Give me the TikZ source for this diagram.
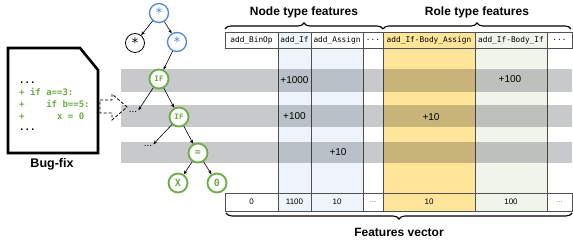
\documentclass[tikz,border=0pt]{standalone}
\usepackage{fontspec}
\setmainfont{Liberation Sans}
\newfontfamily\codefont{DejaVu Sans Mono}
\usetikzlibrary{arrows.meta,decorations.pathreplacing}
\definecolor{treeblue}{HTML}{4A86E8}
\definecolor{treegreen}{HTML}{6AAD45}
\definecolor{colblue}{HTML}{EEF4FA}
\definecolor{colyellow}{HTML}{FFE599}
\definecolor{colgreen}{HTML}{F0F5EC}
\definecolor{bandgray}{HTML}{C8C9CB}
\definecolor{linegray}{HTML}{505050}
\begin{document}
\begin{tikzpicture}[x=1pt,y=-1pt,
  hcell/.style={draw=linegray,line width=0.7pt,minimum height=16pt,inner sep=0pt,
    font=\codefont\fontsize{7.8}{9}\selectfont},
  vcell/.style={draw=linegray,line width=0.7pt,minimum height=18pt,inner sep=0pt,
    font=\fontsize{8}{9}\selectfont},
  colbox/.style={draw=linegray,line width=0.7pt,minimum height=145pt,inner sep=0pt},
  band/.style={fill=bandgray,minimum width=451pt,inner sep=0pt},
  val/.style={font=\fontsize{10}{12}\selectfont,inner sep=0pt},
  title/.style={font=\bfseries\fontsize{12}{14}\selectfont,inner sep=0pt},
  tnode/.style={circle,minimum size=19pt,inner sep=0pt,fill=white},
  bnode/.style={tnode,line width=1.3pt,draw=treeblue,text=treeblue,font=\codefont\fontsize{13}{13}\selectfont},
  knode/.style={tnode,line width=0.8pt,draw=black,text=black,font=\codefont\fontsize{13}{13}\selectfont},
  gnode/.style={tnode,line width=1.8pt,draw=treegreen,text=treegreen,font=\codefont\bfseries\fontsize{10}{10}\selectfont},
  gsmall/.style={gnode,font=\codefont\bfseries\fontsize{7.5}{8}\selectfont},
  edge/.style={line width=0.6pt,-{Stealth[length=4pt,width=3.2pt]}},
  code/.style={anchor=base west,inner sep=0pt,font=\codefont\bfseries\fontsize{9}{11}\selectfont},
  brc/.style={decorate,decoration={brace,amplitude=6pt},line width=1.1pt}
]
\useasboundingbox (0,0) rectangle (573,245);

% ---- columns (middle part) ----
\node[colbox,fill=colblue,minimum width=33pt] (m2) at (294.5,120.5) {};
\node[colbox,fill=colblue,minimum width=52pt] (m3) at (337,120.5) {};
\node[colbox,fill=colyellow,minimum width=92pt] (m5) at (429,120.5) {};
\node[colbox,fill=colgreen,minimum width=72pt] (m6) at (511,120.5) {};

% ---- gray bands ----
\begin{scope}[blend mode=multiply]
\node[band,minimum height=23pt] (b1) at (346.5,80.5) {};
\node[band,minimum height=22pt] (b2) at (346.5,116) {};
\node[band,minimum height=21pt] (b3) at (346.5,152.5) {};
\end{scope}

% ---- header row ----
\node[hcell,fill=white,minimum width=53pt] (h1) at (251.5,40) {add\_BinOp};
\node[hcell,fill=colblue,minimum width=33pt] (h2) at (294.5,40) {add\_If};
\node[hcell,fill=white,minimum width=52pt] (h3) at (337,40) {add\_Assign};
\node[hcell,fill=white,minimum width=20pt] (h4) at (373,40) {...};
\node[hcell,fill=colyellow,minimum width=92pt] (h5) at (429,40) {add\_If-Body\_Assign};
\node[hcell,fill=colgreen,minimum width=72pt] (h6) at (511,40) {add\_If-Body\_If};
\node[hcell,fill=white,minimum width=25pt] (h7) at (559.5,40) {...};

% ---- bottom row ----
\node[vcell,fill=white,minimum width=53pt] (v1) at (251.5,202) {0};
\node[vcell,fill=colblue,minimum width=33pt] (v2) at (294.5,202) {1100};
\node[vcell,fill=colblue,minimum width=52pt] (v3) at (337,202) {10};
\node[vcell,fill=white,minimum width=20pt,text=gray] (v4) at (373,202) {...};
\node[vcell,fill=colyellow,minimum width=92pt] (v5) at (429,202) {10};
\node[vcell,fill=colgreen,minimum width=72pt] (v6) at (511,202) {100};
\node[vcell,fill=white,minimum width=25pt,text=gray] (v7) at (559.5,202) {...};

% ---- values ----
\node[val] (p1) at (294.5,80) {+1000};
\node[val] (p2) at (510,79.5) {+100};
\node[val] (p3) at (294.5,116) {+100};
\node[val] (p4) at (431,117) {+10};
\node[val] (p5) at (338,152.5) {+10};

% ---- braces and titles ----
\draw[brc] (225,29) -- (383,29);
\draw[brc] (383,29) -- (571,29);
\draw[brc] (572,213) -- (226,213);
\node[title] (t1) at (304,12) {Node type features};
\node[title] (t2) at (477,12) {Role type features};
\node[title] (t3) at (399,232) {Features vector};

% ---- tree ----
\node[bnode] (r) at (159,13) {\raisebox{-2.4pt}{*}};
\node[knode] (lc) at (135,43) {\raisebox{-2.4pt}{*}};
\node[bnode] (rc) at (177,42) {\raisebox{-2.4pt}{*}};
\node[gsmall] (if1) at (159,79) {IF};
\node[inner sep=1pt,font=\fontsize{10}{10}\selectfont] (d1) at (133,112) {...};
\node[gsmall] (if2) at (179,117) {IF};
\node[inner sep=1pt,font=\fontsize{10}{10}\selectfont] (d2) at (148,146) {...};
\node[gnode] (eq) at (198,153) {=};
\node[gnode] (x) at (178,183) {X};
\node[gnode] (z) at (217,183) {0};
\draw[edge] (r) -- (lc);
\draw[edge] (r) -- (rc);
\draw[edge] (rc) -- (if1);
\draw[edge] (if1) -- (d1.north east);
\draw[edge] (if1) -- (if2);
\draw[edge] (if2) -- (d2.north east);
\draw[edge] (if2) -- (eq);
\draw[edge] (eq) -- (x);
\draw[edge] (eq) -- (z);

% ---- dashed block arrow ----
\draw[line width=0.8pt,dash pattern=on 3pt off 2pt] (100,100) -- (112,100) -- (112,94) -- (127,107) -- (112,120) -- (112,113) -- (100,113) -- cycle;

% ---- bug-fix document ----
\draw[line width=2.6pt,line join=miter] (8,48) -- (80,48) -- (98,70) -- (98,153) -- (8,153) -- cycle;
\node[code,text=black] (l1) at (19,84) {...};
\node[code,text=treegreen] (l2) at (19,96) {+ if a==3:};
\node[code,text=treegreen] (l3) at (19,107.5) {+~~~~if b==5:};
\node[code,text=treegreen] (l4) at (19,119.5) {+~~~~~~x = 0};
\node[code,text=black] (l5) at (19,131) {...};
\node[font=\bfseries\fontsize{12.5}{14}\selectfont,inner sep=0pt] (bf) at (52,164) {Bug-fix};
\end{tikzpicture}
\end{document}
